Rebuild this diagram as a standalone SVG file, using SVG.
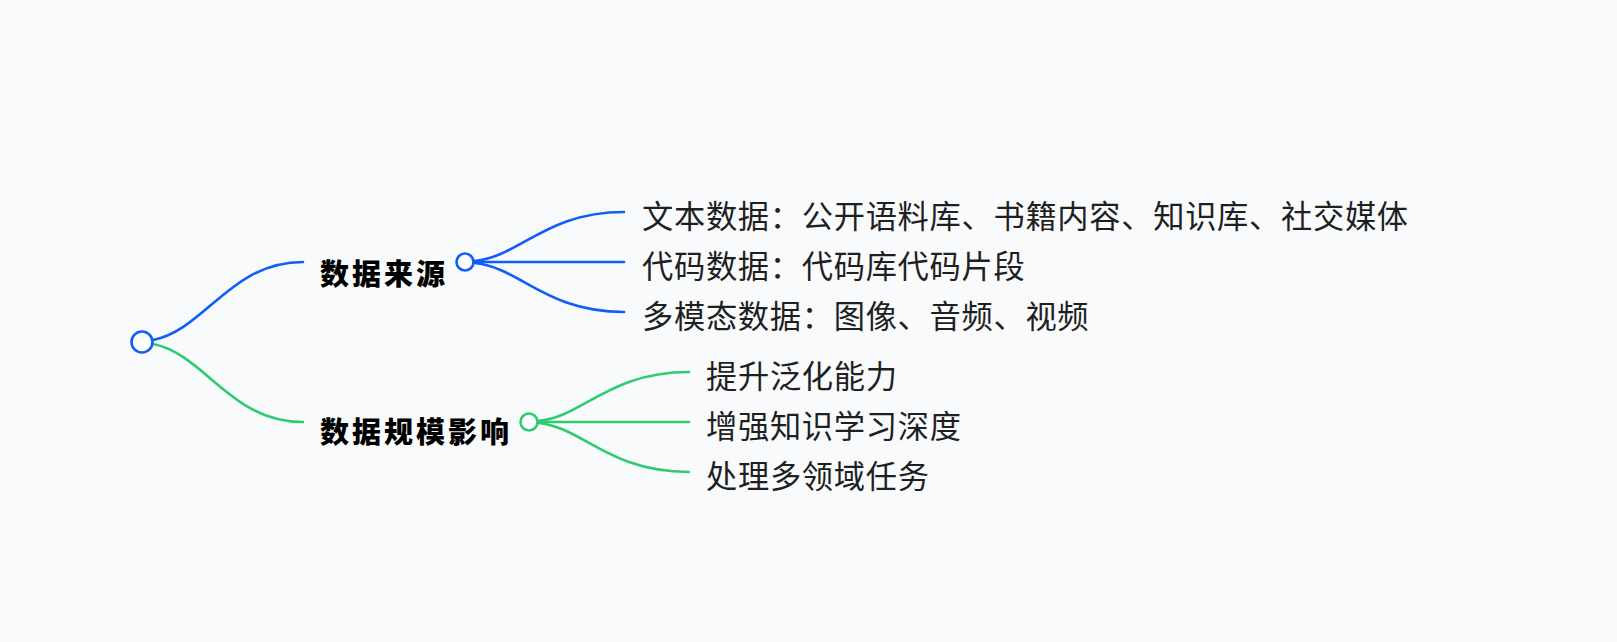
<svg xmlns="http://www.w3.org/2000/svg" width="1617" height="642" viewBox="0 0 1617 642">
  <style>
    .bg { fill: #f8fafc; }
    .blue { stroke: #0f5ef7; }
    .green { stroke: #2ecc71; }
    .link { fill: none; stroke-width: 2.6; stroke-linecap: round; }
    .dot { fill: #ffffff; stroke-width: 2.6; }
    .leaf { font-family: "Noto Sans CJK SC", "Noto Sans", sans-serif; font-size: 31.25px; fill: #1f1f1f; dominant-baseline: central; letter-spacing: 0.7px; }
    .branch { font-family: "Noto Sans CJK SC", "Noto Sans", sans-serif; font-size: 29px; font-weight: 900; fill: #000000; dominant-baseline: central; letter-spacing: 3px; }
  </style>
  <rect class="bg" x="0" y="0" width="1617" height="642"/>
  <g id="connectors">
    <path class="link blue" d="M153,340 C205,330 230,262 303,262"/>
    <path class="link green" d="M153,344 C205,354 230,422 303,422"/>
    <path class="link blue" d="M474,261 C520,257 545,212 624,212"/>
    <path class="link blue" d="M474,262 L624,262"/>
    <path class="link blue" d="M474,263 C520,267 545,312 624,312"/>
    <path class="link green" d="M538,421 C583,417 608,372 689,372"/>
    <path class="link green" d="M538,422 L689,422"/>
    <path class="link green" d="M538,423 C583,427 608,472 689,472"/>
  </g>
  <g id="root">
    <circle class="dot blue" cx="142" cy="342" r="10.5"/>
  </g>
  <g id="branch-sources">
    <text class="branch" x="320" y="271.5">数据来源</text>
    <circle class="dot blue" cx="465" cy="262" r="8.5"/>
  </g>
  <g id="branch-scale">
    <text class="branch" x="320" y="430">数据规模影响</text>
    <circle class="dot green" cx="529" cy="422" r="8.5"/>
  </g>
  <g id="leaf-text"><text class="leaf" x="642" y="214">文本数据：公开语料库、书籍内容、知识库、社交媒体</text></g>
  <g id="leaf-code"><text class="leaf" x="642" y="264">代码数据：代码库代码片段</text></g>
  <g id="leaf-multimodal"><text class="leaf" x="642" y="314">多模态数据：图像、音频、视频</text></g>
  <g id="leaf-generalize"><text class="leaf" x="706" y="374">提升泛化能力</text></g>
  <g id="leaf-depth"><text class="leaf" x="706" y="424">增强知识学习深度</text></g>
  <g id="leaf-multidomain"><text class="leaf" x="706" y="474">处理多领域任务</text></g>
</svg>
